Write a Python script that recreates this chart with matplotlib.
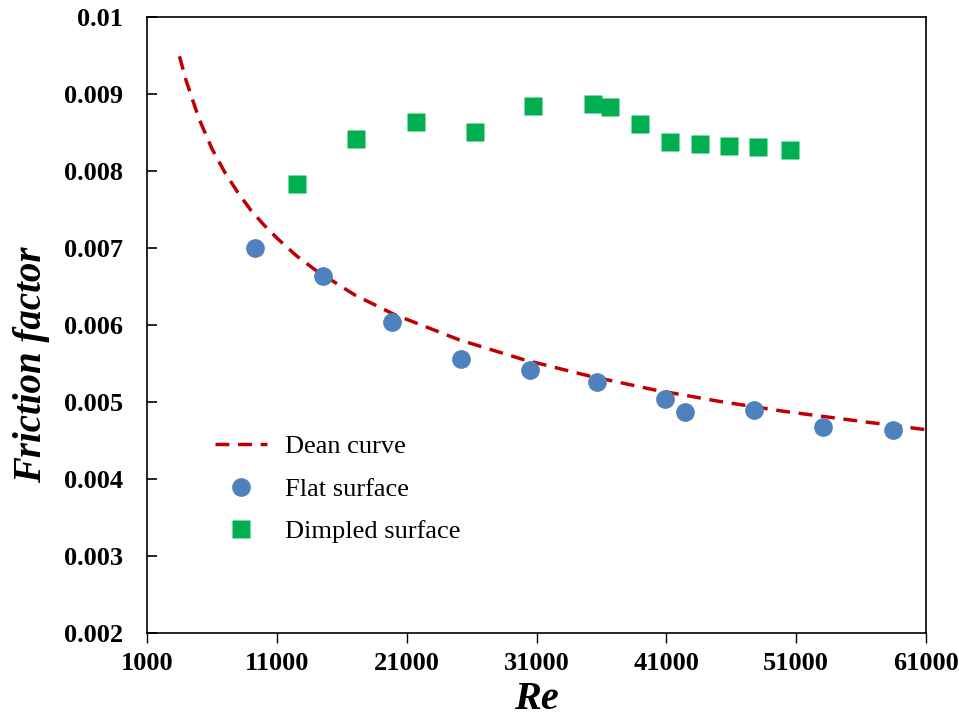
import numpy as np
import matplotlib.pyplot as plt

# flat surface
re_flat = [9338, 14590, 19840, 25160, 30490, 35660, 40910, 42460, 47780, 53030, 58440]
f_flat = [0.00700, 0.00664, 0.00604, 0.00556, 0.00541, 0.00526, 0.00504, 0.00487, 0.00489, 0.00467, 0.00463]

# dimpled surface
re_dimp = [12580, 17060, 21690, 26240, 30720, 35350, 36670, 38980, 41300, 43610, 45850, 48090, 50560]
f_dimp = [0.00783, 0.00841, 0.00863, 0.00850, 0.00885, 0.00887, 0.00883, 0.00861, 0.00837, 0.00835, 0.00833, 0.00831, 0.00827]

# Dean curve
re_dean = [3500, 4000, 5000, 6000, 7000, 8000, 9000, 10000, 11000, 12500, 14000, 17000,
           20000, 25000, 30000, 35000, 40000, 45000, 50000, 55000, 61000]
f_dean = [0.00949, 0.00918, 0.00868, 0.00829, 0.00798, 0.00772, 0.00749, 0.00730, 0.00713,
          0.00690, 0.00671, 0.00639, 0.00614, 0.00581, 0.00555, 0.00534, 0.00516, 0.00501,
          0.00488, 0.00477, 0.00464]

plt.rcParams['font.family'] = 'Liberation Serif'

fig = plt.figure(figsize=(9.59, 7.17), dpi=100)
ax = fig.add_axes([0.1533, 0.1172, 0.8123, 0.8591])

ax.plot(re_dean, f_dean, color='#C00000', ls=(0, (4, 2.5)), lw=2.5, label='Dean curve')
ax.plot(re_flat, f_flat, 'o', color='#4F81BD', ms=13.5, mec='none', label='Flat surface')
ax.plot(re_dimp, f_dimp, 's', color='#00B050', ms=13.5, mec='none', label='Dimpled surface')

ax.set_xlim(1000, 61000)
ax.set_ylim(0.002, 0.01)
ax.set_xticks(np.arange(1000, 61001, 10000))
ax.set_yticks(np.arange(0.002, 0.01001, 0.001))
ax.set_yticklabels(['0.002', '0.003', '0.004', '0.005', '0.006', '0.007', '0.008', '0.009', '0.01'])
ax.tick_params(axis='y', direction='in', length=7, width=1.2, labelsize=19, pad=17)
ax.tick_params(axis='x', direction='out', length=7, width=1, labelsize=19, pad=7)
for lbl in ax.get_xticklabels() + ax.get_yticklabels():
    lbl.set_fontweight('bold')
for s in ax.spines.values():
    s.set_linewidth(1.2)

ax.set_xlabel('Re', fontsize=29, fontweight='bold', style='italic', labelpad=4)
ax.set_ylabel('Friction factor', fontsize=28, fontweight='bold', style='italic')
ax.yaxis.set_label_coords(-0.125, 0.435)

ax.legend(loc='upper left', bbox_to_anchor=(0.057, 0.36), frameon=False, fontsize=19,
          handlelength=1.95, labelspacing=0.72, handletextpad=0.68)

fig.savefig('out.png', dpi=100)
